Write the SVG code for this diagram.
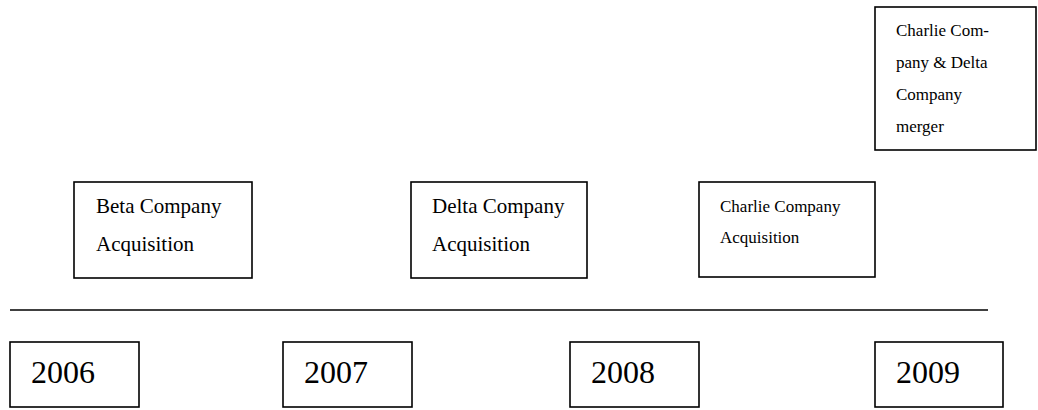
<svg xmlns="http://www.w3.org/2000/svg" width="1038" height="410" viewBox="0 0 1038 410">
<style>
.box{fill:#fff;stroke:#000;stroke-width:1.6}
.t{font-family:"Liberation Serif","Times New Roman",serif;fill:#000}
.yr{font-size:32px}
.lg{font-size:21px}
.sm{font-size:17px}
</style>
<rect width="1038" height="410" fill="#fff"/>
<g id="connectors">
<line x1="10" y1="310" x2="988" y2="310" stroke="#000" stroke-width="1.6"/>
</g>
<g id="merger">
<rect class="box" x="875" y="7" width="161" height="143"/>
<text class="t sm" x="896" y="36">Charlie Com-</text>
<text class="t sm" x="896" y="68">pany &amp; Delta</text>
<text class="t sm" x="896" y="100">Company</text>
<text class="t sm" x="896" y="132">merger</text>
</g>
<g id="beta">
<rect class="box" x="74" y="182" width="178" height="96"/>
<text class="t lg" x="96" y="213">Beta Company</text>
<text class="t lg" x="96" y="251">Acquisition</text>
</g>
<g id="delta">
<rect class="box" x="411" y="182" width="176" height="96"/>
<text class="t lg" x="432" y="213">Delta Company</text>
<text class="t lg" x="432" y="251">Acquisition</text>
</g>
<g id="charlie">
<rect class="box" x="699" y="182" width="176" height="95"/>
<text class="t sm" x="720" y="212">Charlie Company</text>
<text class="t sm" x="720" y="243">Acquisition</text>
</g>
<g id="y2006">
<rect class="box" x="10" y="342" width="129" height="65"/>
<text class="t yr" x="31" y="383">2006</text>
</g>
<g id="y2007">
<rect class="box" x="283" y="342" width="129" height="65"/>
<text class="t yr" x="304" y="383">2007</text>
</g>
<g id="y2008">
<rect class="box" x="570" y="342" width="129" height="65"/>
<text class="t yr" x="591" y="383">2008</text>
</g>
<g id="y2009">
<rect class="box" x="875" y="342" width="128" height="65"/>
<text class="t yr" x="896" y="383">2009</text>
</g>
</svg>
